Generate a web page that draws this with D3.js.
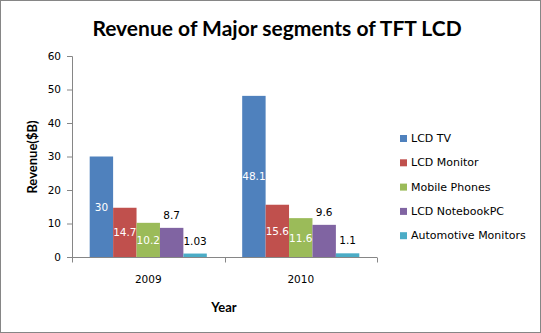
<!DOCTYPE html>
<html>
<head>
<meta charset="utf-8">
<script src="https://cdn.jsdelivr.net/npm/d3@7"></script>
<style>
  body { margin: 0; background: #fff; }
  text { font-family: "DejaVu Sans", Verdana, sans-serif; }
  .ttl { font-family: Lato, "Open Sans", sans-serif; font-weight: bold; }
</style>
</head>
<body>
<svg class="chart" width="541" height="333"></svg>
<script>
// chart data
const years = ["2009", "2010"];
const segments = ["LCD TV", "LCD Monitor", "Mobile Phones", "LCD NotebookPC", "Automotive Monitors"];
const revenue2009 = [30, 14.7, 10.2, 8.7, 1.03];
const revenue2010 = [48.1, 15.6, 11.6, 9.6, 1.1];
const yTicks = [0, 10, 20, 30, 40, 50, 60];
const colors = ["#4F81BD", "#C0504D", "#9BBB59", "#8064A2", "#4BACC6"];

const seriesByYear = [revenue2009, revenue2010];

const svg = d3.select(".chart");
const width = +svg.attr("width");
const height = +svg.attr("height");

// outer border
svg.append("rect")
  .attr("x", 0.5).attr("y", 0.5)
  .attr("width", width - 1).attr("height", height - 1)
  .attr("fill", "#fff").attr("stroke", "#868686");

const plot = {left: 72, right: 377, top: 56, bottom: 257};

const x0 = d3.scaleBand()
  .domain(years)
  .range([plot.left, plot.right])
  .paddingInner(0.232)
  .paddingOuter(0.116);

const x1 = d3.scaleBand()
  .domain(segments)
  .range([0, x0.bandwidth()]);

const y = d3.scaleLinear()
  .domain([0, 60])
  .range([plot.bottom, plot.top]);

// title
svg.append("text")
  .attr("class", "ttl")
  .attr("x", 277).attr("y", 36)
  .attr("text-anchor", "middle")
  .attr("font-size", 21)
  .text("Revenue of Major segments of TFT LCD");

// y axis
const yAxis = svg.append("g")
  .attr("transform", `translate(${plot.left},0)`)
  .call(d3.axisLeft(y).tickValues(yTicks).tickSize(5).tickPadding(6));
yAxis.selectAll("path, line").attr("stroke", "#868686");
yAxis.selectAll("text").attr("font-size", 10.5).attr("fill", "#000")
  .style("font-family", "'DejaVu Sans', Verdana, sans-serif");
yAxis.select(".domain").attr("d", `M-5,${plot.top + 0.5}H0.5V${plot.bottom + 0.5}`);

// x axis
const xAxisG = svg.append("g")
  .attr("transform", `translate(0,${plot.bottom + 0.5})`);
xAxisG.append("line")
  .attr("x1", plot.left).attr("x2", plot.right)
  .attr("stroke", "#868686");
const xTickPos = [plot.left, (plot.left + plot.right) / 2, plot.right];
xAxisG.selectAll(".xt")
  .data(xTickPos)
  .join("line")
  .attr("x1", d => Math.round(d) + 0.5).attr("x2", d => Math.round(d) + 0.5)
  .attr("y1", 0).attr("y2", 5)
  .attr("stroke", "#868686");
xAxisG.selectAll(".xl")
  .data(years)
  .join("text")
  .attr("x", d => x0(d) + x0.bandwidth() / 2)
  .attr("y", 25)
  .attr("text-anchor", "middle")
  .attr("font-size", 10.5)
  .text(d => d);

// axis titles
svg.append("text")
  .attr("class", "ttl")
  .attr("transform", `translate(37,157) rotate(-90)`)
  .attr("text-anchor", "middle")
  .attr("font-size", 13)
  .text("Revenue($B)");

svg.append("text")
  .attr("class", "ttl")
  .attr("x", 224).attr("y", 312)
  .attr("text-anchor", "middle")
  .attr("font-size", 13)
  .text("Year");

// bars
const groups = svg.selectAll(".grp")
  .data(years)
  .join("g")
  .attr("transform", d => `translate(${x0(d)},0)`);

const cells = (yr, i) => segments.map((s, j) => ({seg: s, idx: j, value: seriesByYear[i][j]}));

groups.selectAll("rect")
  .data(cells)
  .join("rect")
  .attr("x", d => x1(d.seg))
  .attr("y", d => y(d.value))
  .attr("width", x1.bandwidth())
  .attr("height", d => plot.bottom - y(d.value))
  .attr("fill", d => colors[d.idx]);

// data labels: first three inside (white), last two above (black)
groups.selectAll(".lbl")
  .data(cells)
  .join("text")
  .attr("x", d => x1(d.seg) + x1.bandwidth() / 2)
  .attr("y", d => d.idx < 3 ? (y(d.value) + plot.bottom) / 2 + 4 : y(d.value) - 9)
  .attr("text-anchor", "middle")
  .attr("font-size", 10.5)
  .attr("fill", d => d.idx < 3 ? "#fff" : "#000")
  .text(d => d.value);

// legend
const legend = svg.selectAll(".leg")
  .data(segments)
  .join("g")
  .attr("transform", (d, i) => `translate(400,${138 + i * 24.3})`);

legend.append("rect")
  .attr("x", 0).attr("y", -3)
  .attr("width", 7).attr("height", 7)
  .attr("fill", (d, i) => colors[i]);

legend.append("text")
  .attr("x", 11).attr("y", 4)
  .attr("font-size", 11)
  .text(d => d);
</script>
</body>
</html>
